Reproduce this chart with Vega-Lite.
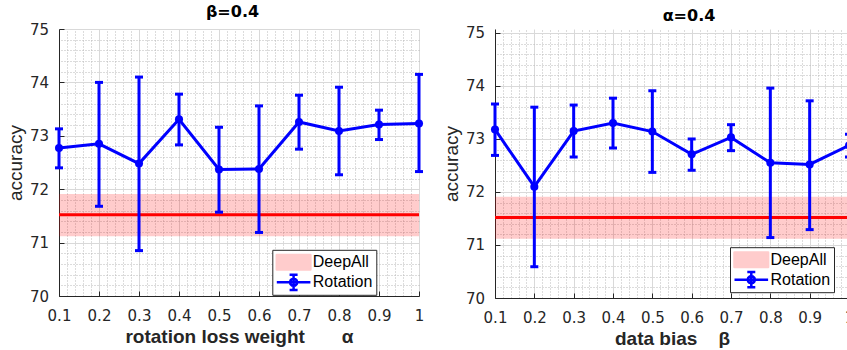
{
  "$schema": "https://vega.github.io/schema/vega-lite/v6.json",
  "autosize": {"type": "pad"},
  "padding": {"top": 4, "left": 6, "right": 0, "bottom": 0},
  "spacing": 17,
  "datasets": {
    "left": [
      {"x": 0.1, "m": 72.77, "lo": 72.40, "hi": 73.13, "s": "Rotation"},
      {"x": 0.2, "m": 72.85, "lo": 71.68, "hi": 74.00, "s": "Rotation"},
      {"x": 0.3, "m": 72.48, "lo": 70.85, "hi": 74.10, "s": "Rotation"},
      {"x": 0.4, "m": 73.31, "lo": 72.83, "hi": 73.78, "s": "Rotation"},
      {"x": 0.5, "m": 72.37, "lo": 71.57, "hi": 73.16, "s": "Rotation"},
      {"x": 0.6, "m": 72.38, "lo": 71.19, "hi": 73.56, "s": "Rotation"},
      {"x": 0.7, "m": 73.26, "lo": 72.75, "hi": 73.76, "s": "Rotation"},
      {"x": 0.8, "m": 73.09, "lo": 72.27, "hi": 73.91, "s": "Rotation"},
      {"x": 0.9, "m": 73.21, "lo": 72.93, "hi": 73.48, "s": "Rotation"},
      {"x": 1.0, "m": 73.23, "lo": 72.33, "hi": 74.15, "s": "Rotation"}
    ],
    "right": [
      {"x": 0.1, "m": 73.18, "lo": 72.69, "hi": 73.66, "s": "Rotation"},
      {"x": 0.2, "m": 72.10, "lo": 70.59, "hi": 73.60, "s": "Rotation"},
      {"x": 0.3, "m": 73.15, "lo": 72.66, "hi": 73.64, "s": "Rotation"},
      {"x": 0.4, "m": 73.30, "lo": 72.83, "hi": 73.77, "s": "Rotation"},
      {"x": 0.5, "m": 73.14, "lo": 72.37, "hi": 73.91, "s": "Rotation"},
      {"x": 0.6, "m": 72.71, "lo": 72.41, "hi": 73.00, "s": "Rotation"},
      {"x": 0.7, "m": 73.03, "lo": 72.78, "hi": 73.27, "s": "Rotation"},
      {"x": 0.8, "m": 72.55, "lo": 71.14, "hi": 73.96, "s": "Rotation"},
      {"x": 0.9, "m": 72.52, "lo": 71.29, "hi": 73.72, "s": "Rotation"},
      {"x": 1.0, "m": 72.88, "lo": 72.66, "hi": 73.09, "s": "Rotation"}
    ],
    "deepall": [
      {"m": 71.52, "lo": 71.12, "hi": 71.91}
    ]
  },
  "config": {
    "font": "Liberation Sans",
    "view": {"stroke": null},
    "axis": {
      "labelFont": "DejaVu Sans",
      "labelFontSize": 15,
      "labelColor": "#262626",
      "titleFont": "Liberation Sans",
      "titleFontSize": 19,
      "titleColor": "#262626",
      "domainColor": "#262626",
      "tickColor": "#262626",
      "labelOverlap": false,
      "labelBound": false,
      "labelFlush": false
    }
  },
  "resolve": {"scale": {"color": "independent"}, "legend": {"color": "independent"}},
  "hconcat": [
    {
      "width": 360,
      "height": 267,
      "title": {"text": "β=0.4", "font": "DejaVu Sans", "fontSize": 16, "fontWeight": "bold", "color": "#000000", "frame": "group", "anchor": "middle", "offset": 2, "dx": -6.5},
      "resolve": {"axis": {"x": "independent", "y": "independent"}},
      "layer": [
        {
          "data": {"name": "deepall"},
          "mark": {"type": "rect", "color": "#ff0000", "opacity": 0.2},
          "encoding": {
            "y": {"field": "lo", "type": "quantitative", "scale": {"domain": [70, 75], "nice": false, "zero": false}, "axis": null},
            "y2": {"field": "hi"}
          }
        },
        {
          "data": {"name": "deepall"},
          "mark": {"type": "rule", "color": "#ff0000", "strokeWidth": 3},
          "encoding": {
            "y": {"field": "m", "type": "quantitative", "scale": {"domain": [70, 75], "nice": false, "zero": false}, "axis": null}
          }
        },
        {
          "data": {"name": "left"},
          "mark": {"type": "rule", "color": "#0000ff", "strokeWidth": 3},
          "encoding": {
            "x": {"field": "x", "type": "quantitative", "scale": {"domain": [0.1, 1], "nice": false, "zero": false},
              "axis": {"orient": "top", "values": [0.12,0.14,0.16,0.18,0.22,0.24,0.26,0.28,0.32,0.34,0.36,0.38,0.42,0.44,0.46,0.48,0.52,0.54,0.56,0.58,0.62,0.64,0.66,0.68,0.72,0.74,0.76,0.78,0.82,0.84,0.86,0.88,0.92,0.94,0.96,0.98], "grid": true, "gridColor": "#b8b8b8", "gridDash": [1, 2], "gridWidth": 1, "labels": false, "ticks": false, "domain": false, "title": null}},
            "y": {"field": "lo", "type": "quantitative", "scale": {"domain": [70, 75], "nice": false, "zero": false},
              "axis": {"orient": "right", "values": [70.2,70.4,70.6,70.8,71.2,71.4,71.6,71.8,72.2,72.4,72.6,72.8,73.2,73.4,73.6,73.8,74.2,74.4,74.6,74.8], "grid": true, "gridColor": "#b8b8b8", "gridDash": [1, 2], "gridWidth": 1, "labels": false, "ticks": false, "domain": false, "title": null}},
            "y2": {"field": "hi"}
          }
        },
        {
          "data": {"name": "left"},
          "mark": {"type": "tick", "orient": "horizontal", "color": "#0000ff", "size": 8, "thickness": 3, "opacity": 1},
          "encoding": {
            "x": {"field": "x", "type": "quantitative", "scale": {"domain": [0.1, 1], "nice": false, "zero": false}, "axis": null},
            "y": {"field": "hi", "type": "quantitative", "scale": {"domain": [70, 75], "nice": false, "zero": false}, "axis": null}
          }
        },
        {
          "data": {"name": "left"},
          "mark": {"type": "tick", "orient": "horizontal", "color": "#0000ff", "size": 8, "thickness": 3, "opacity": 1},
          "encoding": {
            "x": {"field": "x", "type": "quantitative", "scale": {"domain": [0.1, 1], "nice": false, "zero": false}, "axis": null},
            "y": {"field": "lo", "type": "quantitative", "scale": {"domain": [70, 75], "nice": false, "zero": false}, "axis": null}
          }
        },
        {
          "data": {"name": "left"},
          "mark": {"type": "line", "strokeWidth": 3},
          "encoding": {
            "x": {"field": "x", "type": "quantitative", "scale": {"domain": [0.1, 1], "nice": false, "zero": false},
              "axis": {"orient": "bottom", "values": [0.1,0.2,0.3,0.4,0.5,0.6,0.7,0.8,0.9,1.0], "format": "~g", "grid": true, "gridColor": "#d9d9d9", "gridWidth": 1, "domain": true, "domainWidth": 1, "ticks": true, "tickSize": -5, "tickWidth": 1, "labelPadding": 17, "title": "rotation loss weight\u00a0\u00a0\u00a0\u00a0\u00a0\u00a0\u00a0α", "titleFontWeight": "bold", "titlePadding": 4}},
            "y": {"field": "m", "type": "quantitative", "scale": {"domain": [70, 75], "nice": false, "zero": false},
              "axis": {"orient": "left", "values": [70,71,72,73,74,75], "format": "d", "grid": true, "gridColor": "#d9d9d9", "gridWidth": 1, "domain": true, "domainWidth": 1, "ticks": true, "tickSize": -5, "tickWidth": 1, "labelPadding": 15.5, "title": "accuracy", "titleFontWeight": "normal", "titlePadding": 4.4}},
            "color": {"field": "s", "type": "nominal", "scale": {"domain": ["DeepAll", "Rotation"], "range": ["#ffcccc", "#0000ff"]},
              "legend": {"orient": "none", "legendX": 213.3, "legendY": 220.8, "title": null, "padding": 3, "strokeColor": "#262626", "fillColor": "#ffffff", "labelFont": "Liberation Sans", "labelFontSize": 16, "labelColor": "#000000", "labelOffset": 18.5, "symbolSize": 256, "rowPadding": 2,
                "encode": {"symbols": {"update": {
                  "shape": {"signal": "datum.value === 'DeepAll' ? 'M-1,-0.9H3.2V0.9H-1Z' : 'M-1,0H3.2M1.1,-0.95V0.95M0.6,-0.95H1.6M0.6,0.95H1.6M1.55,0L1.49,0.225L1.325,0.39L1.1,0.45L0.875,0.39L0.71,0.225L0.65,0L0.71,-0.225L0.875,-0.39L1.1,-0.45L1.325,-0.39L1.49,-0.225Z'"},
                  "fill": {"signal": "datum.value === 'DeepAll' ? '#ffcccc' : 'transparent'"},
                  "stroke": {"signal": "datum.value === 'DeepAll' ? null : '#0000ff'"},
                  "strokeWidth": {"value": 2.5},
                  "strokeJoin": {"value": "round"},
                  "opacity": {"value": 1}
                }}}}}
          }
        },
        {
          "data": {"name": "left"},
          "mark": {"type": "point", "filled": true, "size": 65, "color": "#0000ff", "opacity": 1},
          "encoding": {
            "x": {"field": "x", "type": "quantitative", "scale": {"domain": [0.1, 1], "nice": false, "zero": false}, "axis": null},
            "y": {"field": "m", "type": "quantitative", "scale": {"domain": [70, 75], "nice": false, "zero": false}, "axis": null}
          }
        }
      ]
    },
    {
      "width": 354,
      "height": 269,
      "title": {"text": "α=0.4", "font": "DejaVu Sans", "fontSize": 16, "fontWeight": "bold", "color": "#000000", "frame": "group", "anchor": "middle", "offset": 2, "dx": 17},
      "resolve": {"axis": {"x": "independent", "y": "independent"}},
      "layer": [
        {
          "data": {"name": "deepall"},
          "mark": {"type": "rect", "color": "#ff0000", "opacity": 0.2},
          "encoding": {
            "y": {"field": "lo", "type": "quantitative", "scale": {"domain": [70, 75.075], "nice": false, "zero": false}, "axis": null},
            "y2": {"field": "hi"}
          }
        },
        {
          "data": {"name": "deepall"},
          "mark": {"type": "rule", "color": "#ff0000", "strokeWidth": 3},
          "encoding": {
            "y": {"field": "m", "type": "quantitative", "scale": {"domain": [70, 75.075], "nice": false, "zero": false}, "axis": null}
          }
        },
        {
          "data": {"name": "right"},
          "mark": {"type": "rule", "color": "#0000ff", "strokeWidth": 3},
          "encoding": {
            "x": {"field": "x", "type": "quantitative", "scale": {"domain": [0.1, 1], "nice": false, "zero": false},
              "axis": {"orient": "top", "values": [0.12,0.14,0.16,0.18,0.22,0.24,0.26,0.28,0.32,0.34,0.36,0.38,0.42,0.44,0.46,0.48,0.52,0.54,0.56,0.58,0.62,0.64,0.66,0.68,0.72,0.74,0.76,0.78,0.82,0.84,0.86,0.88,0.92,0.94,0.96,0.98], "grid": true, "gridColor": "#b8b8b8", "gridDash": [1, 2], "gridWidth": 1, "labels": false, "ticks": false, "domain": false, "title": null}},
            "y": {"field": "lo", "type": "quantitative", "scale": {"domain": [70, 75.075], "nice": false, "zero": false},
              "axis": {"orient": "right", "values": [70.2,70.4,70.6,70.8,71.2,71.4,71.6,71.8,72.2,72.4,72.6,72.8,73.2,73.4,73.6,73.8,74.2,74.4,74.6,74.8], "grid": true, "gridColor": "#b8b8b8", "gridDash": [1, 2], "gridWidth": 1, "labels": false, "ticks": false, "domain": false, "title": null}},
            "y2": {"field": "hi"}
          }
        },
        {
          "data": {"name": "right"},
          "mark": {"type": "tick", "orient": "horizontal", "color": "#0000ff", "size": 8, "thickness": 3, "opacity": 1},
          "encoding": {
            "x": {"field": "x", "type": "quantitative", "scale": {"domain": [0.1, 1], "nice": false, "zero": false}, "axis": null},
            "y": {"field": "hi", "type": "quantitative", "scale": {"domain": [70, 75.075], "nice": false, "zero": false}, "axis": null}
          }
        },
        {
          "data": {"name": "right"},
          "mark": {"type": "tick", "orient": "horizontal", "color": "#0000ff", "size": 8, "thickness": 3, "opacity": 1},
          "encoding": {
            "x": {"field": "x", "type": "quantitative", "scale": {"domain": [0.1, 1], "nice": false, "zero": false}, "axis": null},
            "y": {"field": "lo", "type": "quantitative", "scale": {"domain": [70, 75.075], "nice": false, "zero": false}, "axis": null}
          }
        },
        {
          "data": {"name": "right"},
          "mark": {"type": "line", "strokeWidth": 3},
          "encoding": {
            "x": {"field": "x", "type": "quantitative", "scale": {"domain": [0.1, 1], "nice": false, "zero": false},
              "axis": {"orient": "bottom", "values": [0.1,0.2,0.3,0.4,0.5,0.6,0.7,0.8,0.9,1.0], "format": "~g", "grid": true, "gridColor": "#d9d9d9", "gridWidth": 1, "domain": true, "domainWidth": 1, "ticks": true, "tickSize": -5, "tickWidth": 1, "labelPadding": 17, "title": "data bias\u00a0\u00a0\u00a0\u00a0β", "titleFontWeight": "bold", "titlePadding": 4}},
            "y": {"field": "m", "type": "quantitative", "scale": {"domain": [70, 75.075], "nice": false, "zero": false},
              "axis": {"orient": "left", "values": [70,71,72,73,74,75], "format": "d", "grid": true, "gridColor": "#d9d9d9", "gridWidth": 1, "domain": true, "domainWidth": 1, "ticks": true, "tickSize": -5, "tickWidth": 1, "labelPadding": 15.5, "title": "accuracy", "titleFontWeight": "normal", "titlePadding": 4.4}},
            "color": {"field": "s", "type": "nominal", "scale": {"domain": ["DeepAll", "Rotation"], "range": ["#ffcccc", "#0000ff"]},
              "legend": {"orient": "none", "legendX": 235, "legendY": 218.2, "title": null, "padding": 3, "strokeColor": "#262626", "fillColor": "#ffffff", "labelFont": "Liberation Sans", "labelFontSize": 16, "labelColor": "#000000", "labelOffset": 18.5, "symbolSize": 256, "rowPadding": 2,
                "encode": {"symbols": {"update": {
                  "shape": {"signal": "datum.value === 'DeepAll' ? 'M-1,-0.9H3.2V0.9H-1Z' : 'M-1,0H3.2M1.1,-0.95V0.95M0.6,-0.95H1.6M0.6,0.95H1.6M1.55,0L1.49,0.225L1.325,0.39L1.1,0.45L0.875,0.39L0.71,0.225L0.65,0L0.71,-0.225L0.875,-0.39L1.1,-0.45L1.325,-0.39L1.49,-0.225Z'"},
                  "fill": {"signal": "datum.value === 'DeepAll' ? '#ffcccc' : 'transparent'"},
                  "stroke": {"signal": "datum.value === 'DeepAll' ? null : '#0000ff'"},
                  "strokeWidth": {"value": 2.5},
                  "strokeJoin": {"value": "round"},
                  "opacity": {"value": 1}
                }}}}}
          }
        },
        {
          "data": {"name": "right"},
          "mark": {"type": "point", "filled": true, "size": 65, "color": "#0000ff", "opacity": 1},
          "encoding": {
            "x": {"field": "x", "type": "quantitative", "scale": {"domain": [0.1, 1], "nice": false, "zero": false}, "axis": null},
            "y": {"field": "m", "type": "quantitative", "scale": {"domain": [70, 75.075], "nice": false, "zero": false}, "axis": null}
          }
        }
      ]
    }
  ]
}
